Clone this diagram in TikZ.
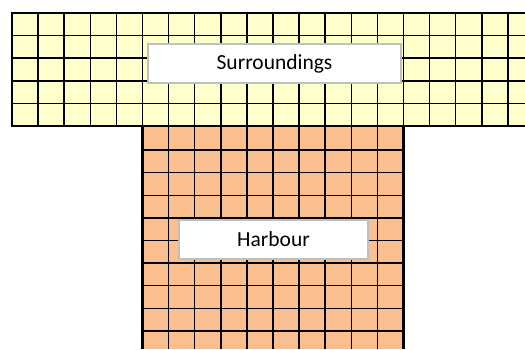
\documentclass[tikz,border=0pt]{standalone}
\usepackage{fontspec}
\setmainfont{Carlito}
\usetikzlibrary{positioning}

\definecolor{landfill}{HTML}{FFFFCC}
\definecolor{harbourfill}{HTML}{FABF8F}
\definecolor{labelframe}{HTML}{BFBFBF}

\begin{document}
\begin{tikzpicture}[
  x=1pt, y=-1pt,
  cellline/.style={line width=1.5pt},
  border/.style={line width=2.5pt},
  zone/.style={rectangle, draw=labelframe, line width=1.5pt, fill=white, inner sep=0pt, minimum height=39pt, font=\fontsize{21.5}{25}\selectfont}
]
  \useasboundingbox (0,0) rectangle (525,349);

  % surroundings band
  \fill[landfill] (12,13) rectangle (525,126);
  \foreach \i in {1,...,19}
    \draw[cellline] ({12+26.1*\i},13) -- ({12+26.1*\i},126);
  \foreach \j in {1,...,4}
    \draw[cellline] (12,{13+22.6*\j}) -- (525,{13+22.6*\j});

  % harbour basin
  \fill[harbourfill] (142.5,126) rectangle (403.5,349);
  \foreach \i in {6,...,14}
    \draw[cellline] ({12+26.1*\i},126) -- ({12+26.1*\i},349);
  \foreach \j in {1,...,9}
    \draw[cellline] (142.5,{127.5+22.6*\j}) -- (403.5,{127.5+22.6*\j});

  \draw[border] (525,13) -- (12,13) -- (12,126) -- (525,126);
  \draw[border] (142.5,349) -- (142.5,126);
  \draw[border] (403.5,126) -- (403.5,349);

  \node[zone, minimum width=253pt] (surroundings) at (274.5,63.5) {Surroundings};
  \node[zone, minimum width=189pt] (harbour) at (273.5,239.5) {Harbour};
\end{tikzpicture}
\end{document}
